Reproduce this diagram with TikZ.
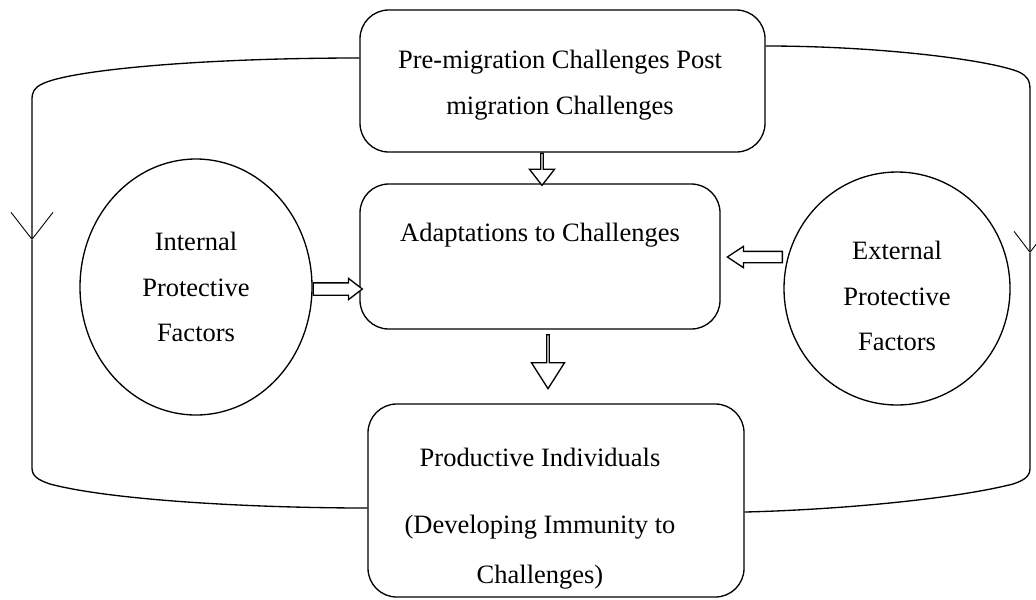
\documentclass[tikz,border=0pt]{standalone}
\usepackage{fontspec}
\setmainfont{Liberation Serif}
\usepackage{tikz}
\usetikzlibrary{arrows.meta}
\usetikzlibrary{shapes.geometric}
\usetikzlibrary{shapes.arrows}
\usetikzlibrary{positioning}
\newlength{\pxl}
\setlength{\pxl}{0.1592mm}
\tikzset{stage/.style = {draw, line width=0.6pt, rounded corners=13pt, inner sep=0pt}}
\tikzset{factor/.style = {draw, ellipse, line width=0.6pt, inner sep=0pt}}
\tikzset{words/.style = {align=center, inner sep=0pt}}
\tikzset{ring/.style = {line width=0.6pt}}
\tikzset{hollow/.style = {draw, single arrow, single arrow head indent=0pt,
                          line width=0.6pt, inner xsep=0pt, anchor=tail, fill=white}}

\begin{document}
\begin{tikzpicture}[x=1\pxl, y=-1\pxl]
      \useasboundingbox (0, 0) rectangle (1036, 599);

      \node [stage, minimum width=405\pxl, minimum height=142\pxl] (top) at (562.5, 81) {};
      \node [stage, minimum width=360\pxl, minimum height=145\pxl] (adapt) at (540, 256.5) {};
      \node [stage, minimum width=376\pxl, minimum height=193\pxl] (prod) at (556, 500.5) {};
      \node [factor, minimum width=232\pxl, minimum height=256\pxl] (internal) at (196, 287) {};
      \node [factor, minimum width=226\pxl, minimum height=233\pxl] (external) at (897, 288.5) {};

      \node [words, font=\fontsize{12}{20.8}\selectfont] (toptext) at (560, 85)
            {Pre-migration Challenges Post\\migration Challenges};
      \node [words, font=\fontsize{12}{14}\selectfont] (adapttext) at (540, 235) {Adaptations to Challenges};
      \node [words, font=\fontsize{12}{22.6}\selectfont] (prodtext) at (540, 519)
            {Productive Individuals\\[7.7pt](Developing Immunity to\\Challenges)};
      \node [words, font=\fontsize{12}{20.8}\selectfont] (inttext) at (196, 287)
            {Internal\\Protective\\Factors};
      \node [words, font=\fontsize{12}{20.8}\selectfont] (exttext) at (897, 296)
            {External\\Protective\\Factors};

      \node [hollow, shape border rotate=270, minimum height=32\pxl, minimum width=25\pxl,
             inner ysep=6.5\pxl, single arrow head extend=6\pxl, single arrow tip angle=76]
            (down1) at (542, 0 |- top.south) {};
      \node [hollow, shape border rotate=270, minimum height=54\pxl, minimum width=33\pxl,
             inner ysep=8\pxl, single arrow head extend=8.5\pxl, single arrow tip angle=65]
            (down2) at (548, 334) {};
      \node [hollow, minimum height=49\pxl, minimum width=20\pxl,
             inner ysep=5.5\pxl, single arrow head extend=4.5\pxl, single arrow tip angle=75]
            (right1) at (internal.east |- 0, 289) {};
      \node [hollow, shape border rotate=180, minimum height=55\pxl, minimum width=20\pxl,
             inner ysep=5\pxl, single arrow head extend=5\pxl, single arrow tip angle=67]
            (left1) at (783, 257) {};

      \coordinate (lmark) at (32, 240);
      \coordinate (rmark) at (1030, 253);
      \draw [ring, -{Straight Barb[length=12.2pt, width=19pt, line width=0.4pt]}]
            (top.west |- 0, 58) .. controls (200, 58) and (70, 70) .. (42, 84)
            .. controls (34, 88) and (32, 92) .. (32, 100) -- (lmark);
      \draw [ring] (lmark) -- (32, 468) .. controls (32, 476) and (38, 480) .. (50, 484)
            .. controls (110, 500) and (250, 508) .. (prod.west |- 0, 508);
      \draw [ring, -{Straight Barb[length=9.5pt, width=14.5pt, line width=0.4pt]}]
            (top.east |- 0, 46) .. controls (880, 46) and (990, 60) .. (1019, 72)
            .. controls (1027, 76) and (1030, 80) .. (1030, 90) -- (rmark);
      \draw [ring] (rmark) -- (1030, 468) .. controls (1030, 476) and (1025, 480) .. (1013, 484)
            .. controls (950, 500) and (830, 510) .. (prod.east |- 0, 512);
\end{tikzpicture}
\end{document}
